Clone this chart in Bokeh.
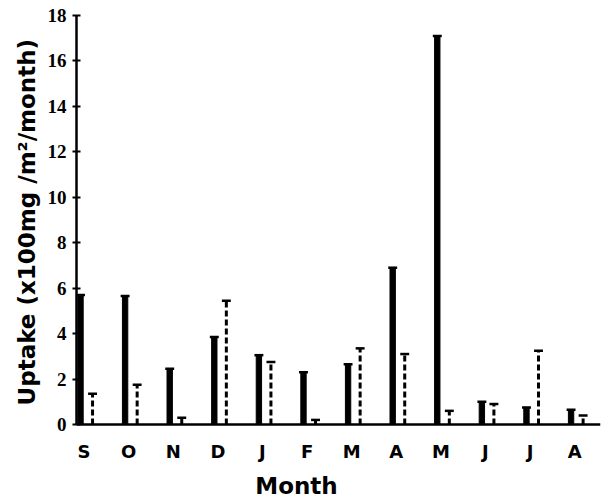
import numpy as np
from bokeh.plotting import figure
from bokeh.models import FixedTicker, Label, Title
from bokeh.embed import file_html
from bokeh.resources import INLINE

months = ["S", "O", "N", "D", "J", "F", "M", "A", "M", "J", "J", "A"]
solid_vals = [5.7, 5.65, 2.45, 3.85, 3.05, 2.3, 2.65, 6.9, 17.1, 1.0, 0.75, 0.65]
dashed_vals = [1.35, 1.75, 0.3, 5.45, 2.75, 0.2, 3.35, 3.1, 0.6, 0.9, 3.25, 0.4]
y_ticks = [0, 2, 4, 6, 8, 10, 12, 14, 16, 18]

idx = np.arange(len(months))
solid_x = idx - 0.08
dashed_x = idx + 0.19
solid = np.array(solid_vals)
dashed = np.array(dashed_vals)

p = figure(width=609, height=501, x_range=(-0.17, 11.58), y_range=(-3.39, 18),
           output_backend="svg", toolbar_location=None,
           min_border_left=76, min_border_right=9, min_border_top=15, min_border_bottom=0)
p.outline_line_color = None
p.grid.visible = False
p.background_fill_color = "white"
p.border_fill_color = "white"

# solid bars with caps
p.vbar(x=solid_x, top=solid, bottom=0, width=0.12, color="black")
p.segment(x0=solid_x - 0.1, x1=solid_x + 0.1, y0=solid, y1=solid, line_width=2.5, line_color="black")
# dashed bars with caps
p.segment(x0=dashed_x, x1=dashed_x, y0=np.zeros_like(dashed), y1=dashed,
          line_width=3, line_color="black", line_dash="6 3")
p.segment(x0=dashed_x - 0.1, x1=dashed_x + 0.1, y0=dashed, y1=dashed, line_width=2.5, line_color="black")

# y axis
ya = p.yaxis[0]
ya.ticker = FixedTicker(ticks=y_ticks)
ya.bounds = (0, 18)
ya.minor_tick_line_color = None
ya.major_tick_in = 4
ya.major_tick_out = 4
ya.major_tick_line_width = 2
ya.axis_line_width = 2.5
ya.major_label_text_font = "Liberation Sans Narrow"
ya.major_label_text_font_style = "bold"
ya.major_label_text_font_size = "19px"
ya.major_label_text_color = "black"
ya.major_label_standoff = 6

p.add_layout(Title(text="Uptake (x100mg /m²/month)", align="left", offset=96, standoff=10,
                   text_font="DejaVu Sans", text_font_style="bold", text_font_size="23px",
                   text_color="black"), "left")

# x axis drawn at y = 0
xa = p.xaxis[0]
xa.fixed_location = 0
xa.ticker = FixedTicker(ticks=list(idx))
xa.major_label_overrides = {int(i): m for i, m in zip(idx, months)}
xa.minor_tick_line_color = None
xa.major_tick_in = 0
xa.major_tick_out = 0
xa.axis_line_width = 2.5
xa.major_label_text_font = "DejaVu Sans"
xa.major_label_text_font_style = "bold"
xa.major_label_text_font_size = "18px"
xa.major_label_text_color = "black"
xa.major_label_standoff = 17

p.add_layout(Label(x=220, y=16, x_units="screen", y_units="screen", text="Month",
                   text_align="center", text_baseline="alphabetic",
                   text_font="DejaVu Sans", text_font_style="bold", text_font_size="23px",
                   text_color="black"))

open("out.html", "w").write(file_html(p, INLINE))
